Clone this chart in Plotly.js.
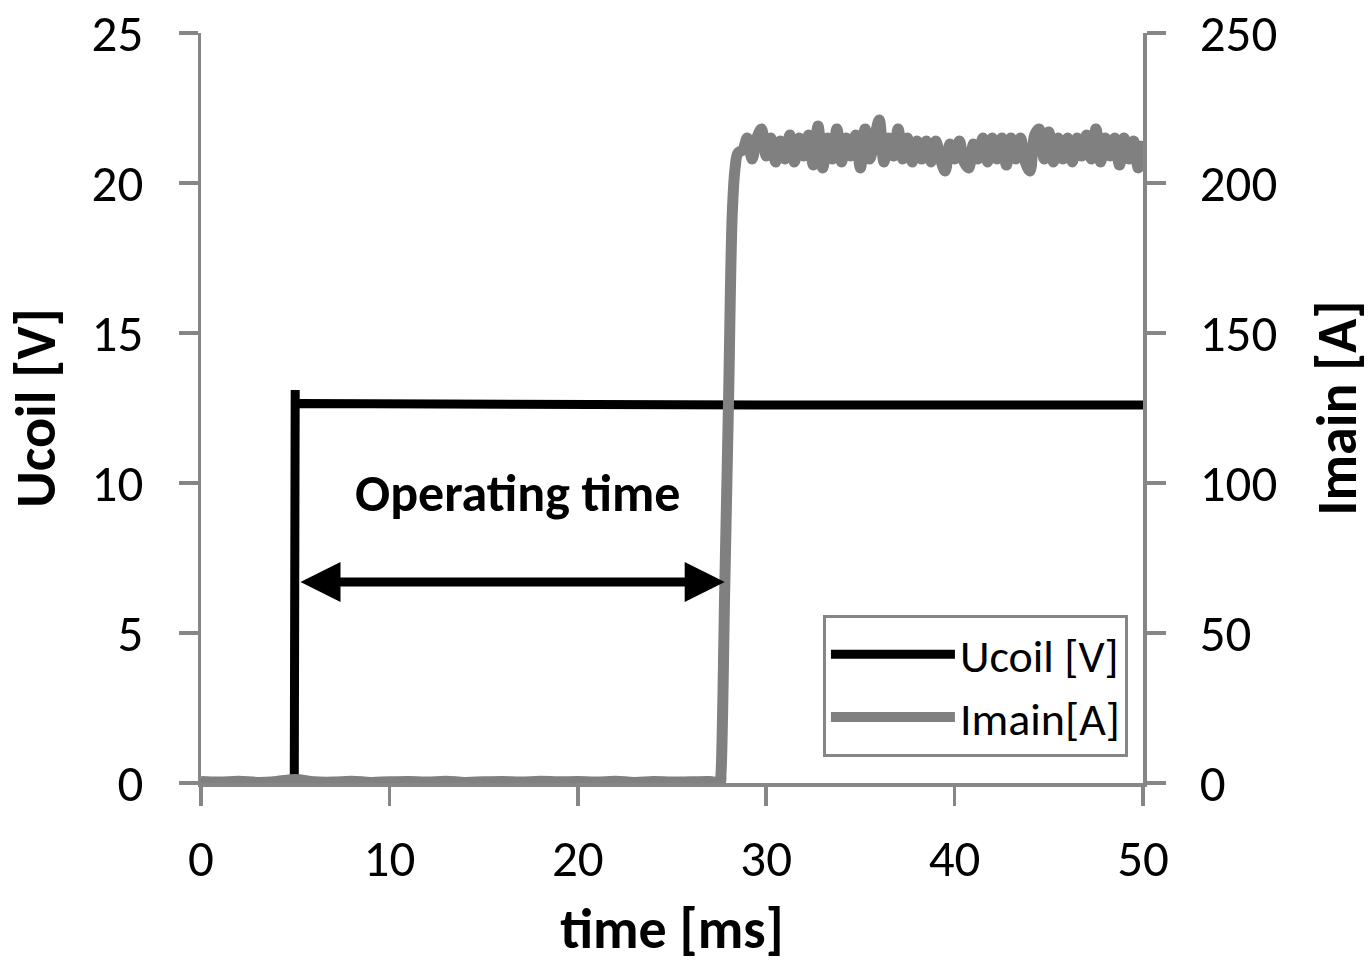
<!DOCTYPE html>
<html>
<head>
<meta charset="utf-8">
<script src="https://cdn.plot.ly/plotly-3.0.1.min.js"></script>
<style>html,body{margin:0;padding:0;background:#fff;}</style>
</head>
<body>
<div id="chart" style="width:1371px;height:963px;"></div>
<script>
// ---- data ----
var ucoilTime = [0, 4.95, 5.0, 5.0, 5.3, 10, 20, 30, 40, 50];
var ucoilVolt = [0, 0, 13.1, 12.6, 12.65, 12.63, 12.62, 12.6, 12.6, 12.6];

var imainTime = [0, 1, 2, 3, 4, 5, 6, 7, 8, 9, 10, 11, 12, 13, 14, 15, 16, 17, 18, 19, 20,
  21, 22, 23, 24, 25, 26, 27, 27.55, 27.6, 27.8, 28.0, 28.2, 28.35, 28.5,
  28.75, 29.0, 29.25, 29.5, 29.75, 30.0, 30.25, 30.5, 30.75, 31.0, 31.25, 31.5, 31.75,
  32.0, 32.25, 32.5, 32.75, 33.0, 33.25, 33.5, 33.75, 34.0, 34.25, 34.5, 34.75,
  35.0, 35.25, 35.5, 35.75, 36.0, 36.25, 36.5, 36.75, 37.0, 37.25, 37.5, 37.75,
  38.0, 38.25, 38.5, 38.75, 39.0, 39.25, 39.5, 39.75, 40.0, 40.25, 40.5, 40.75,
  41.0, 41.25, 41.5, 41.75, 42.0, 42.25, 42.5, 42.75, 43.0, 43.25, 43.5, 43.75,
  44.0, 44.25, 44.5, 44.75, 45.0, 45.25, 45.5, 45.75, 46.0, 46.25, 46.5, 46.75,
  47.0, 47.25, 47.5, 47.75, 48.0, 48.25, 48.5, 48.75, 49.0, 49.25, 49.5, 49.75, 50.0];
var imainAmp = [0.5, 0.3, 0.6, 0.2, 0.5, 1.2, 0.4, 0.3, 0.6, 0.2, 0.4, 0.5, 0.3, 0.6, 0.2, 0.4,
  0.5, 0.3, 0.6, 0.4, 0.5, 0.3, 0.6, 0.2, 0.5, 0.3, 0.4, 0.5, 0.3, 3, 65, 127, 190, 205, 210,
  211, 215, 208, 215, 218, 209, 215, 207, 214, 208, 216, 207, 215,
  209, 216, 206, 219, 205, 215, 208, 218, 207, 215, 209, 216,
  205, 218, 208, 215, 221, 207, 215, 209, 218, 208, 215, 207,
  214, 208, 214, 207, 214, 208, 204, 213, 208, 214, 207, 205,
  213, 208, 215, 207, 215, 208, 215, 206, 215, 208, 215, 207,
  204, 216, 218, 208, 217, 207, 215, 208, 215, 207, 215, 209,
  216, 208, 218, 207, 215, 209, 215, 206, 215, 208, 214, 205, 214];

var xTicks = [0, 10, 20, 30, 40, 50];
var yLeftTicks = [0, 5, 10, 15, 20, 25];
var yRightTicks = [0, 50, 100, 150, 200, 250];

var seriesNames = ['Ucoil [V]', 'Imain[A]'];
var annotationText = 'Operating time';
var arrowStart = 5.2, arrowEnd = 27.8, arrowLevel = 6.7;

// ---- chart ----
var FONT = 'Carlito, Calibri, Lato, sans-serif';
var GRAY = '#868686';

var traces = [
  {x: ucoilTime, y: ucoilVolt, name: seriesNames[0], type: 'scatter', mode: 'lines',
   line: {color: '#000000', width: 9}, yaxis: 'y'},
  {x: imainTime, y: imainAmp, name: seriesNames[1], type: 'scatter', mode: 'lines',
   line: {color: '#808080', width: 11, shape: 'spline', smoothing: 1}, yaxis: 'y2'}
];

var axisStyle = {
  showgrid: false, zeroline: false, showline: true, linecolor: GRAY, linewidth: 3.5,
  ticks: 'outside', ticklen: 19, tickwidth: 3.5, tickcolor: GRAY,
  tickfont: {family: FONT, size: 51, color: '#000'}
};

var layout = {
  width: 1371, height: 963,
  margin: {l: 201, r: 228, t: 33, b: 180},
  paper_bgcolor: '#fff', plot_bgcolor: '#fff',
  font: {family: FONT, color: '#000'},
  showlegend: true,
  legend: {
    x: 0.984, y: 0.035, xanchor: 'right', yanchor: 'bottom',
    bgcolor: '#fff', bordercolor: GRAY, borderwidth: 3,
    font: {family: FONT, size: 46, color: '#000'},
    itemwidth: 124, tracegroupgap: 0
  },
  xaxis: Object.assign({}, axisStyle, {
    range: [0, 50], tickvals: xTicks, ticktext: xTicks.map(String),
    ticklabelstandoff: 9,
    title: {text: '<b>time [ms]</b>', font: {family: FONT, size: 56, color: '#000'}, standoff: 22}
  }),
  yaxis: Object.assign({}, axisStyle, {
    range: [0, 25], tickvals: yLeftTicks, ticktext: yLeftTicks.map(String),
    ticklabelstandoff: 25,
    title: {text: '<b>Ucoil [V]</b>', font: {family: FONT, size: 56, color: '#000'}, standoff: 19}
  }),
  yaxis2: Object.assign({}, axisStyle, {
    range: [0, 250], tickvals: yRightTicks, ticktext: yRightTicks.map(String),
    overlaying: 'y', side: 'right', anchor: 'x',
    ticklabelstandoff: 24,
    title: {text: '<b>Imain [A]</b>', font: {family: FONT, size: 56, color: '#000'}, standoff: 44}
  }),
  annotations: [
    {x: 16.8, y: 9.67, xref: 'x', yref: 'y', text: '<b>' + annotationText + '</b>',
     showarrow: false, font: {family: FONT, size: 52, color: '#000'}},
    {x: arrowEnd, y: arrowLevel, ax: arrowStart, ay: arrowLevel,
     xref: 'x', yref: 'y', axref: 'x', ayref: 'y', text: '',
     showarrow: true, arrowside: 'end+start', arrowhead: 2, arrowsize: 0.89,
     arrowwidth: 9, arrowcolor: '#000', standoff: 0, startstandoff: 0}
  ]
};

Plotly.newPlot('chart', traces, layout, {displayModeBar: false, staticPlot: true});
</script>
</body>
</html>
